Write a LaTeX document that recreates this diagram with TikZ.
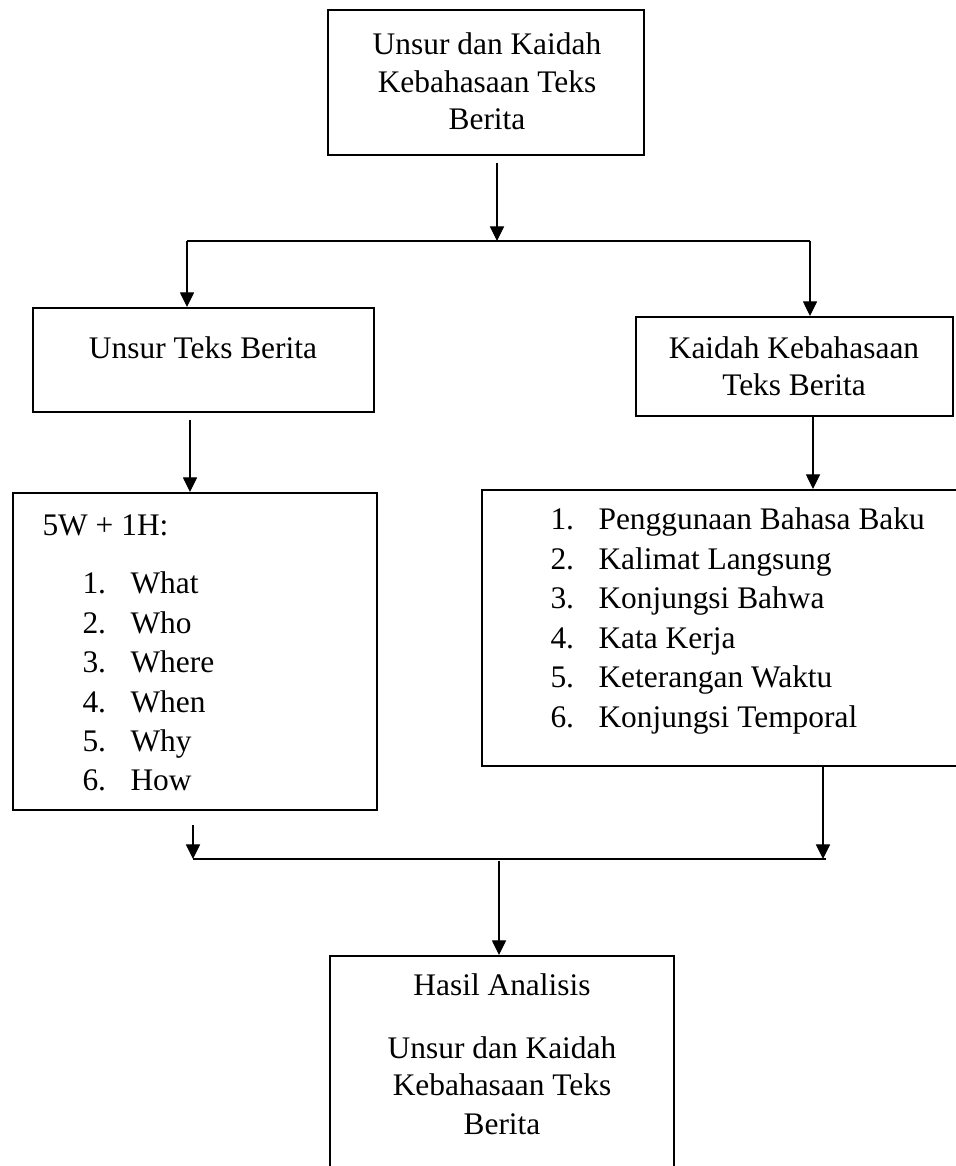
\documentclass[tikz,border=0pt]{standalone}
\usepackage{fontspec}
\setmainfont{Liberation Serif}
\usetikzlibrary{positioning, arrows.meta, fit, calc}
\tikzset{
  box/.style={draw, line width=0.8pt, inner sep=0pt},
  link/.style={line width=0.45pt},
  arr/.style={link, -{Triangle[length=5.6pt, width=5.4pt]}},
  txt/.style={inner sep=0pt, font=\fontsize{12}{14.4}\selectfont},
}
\newcommand{\listrow}[5]{%
  \node[txt, anchor=base west] (#1-n#4) at (#2,#3) {#4.};
  \node[txt, anchor=base west] (#1-t#4) at ({#2+48},#3) {#5};
}

\begin{document}
\begin{tikzpicture}[x=0.382pt, y=-0.382pt]
    \useasboundingbox (0,0) rectangle (955,1166);
    % kotak
    \node[box, fit={(328,10) (644,155)}] (judul) {};
    \node[box, fit={(33,308) (374,412)}] (unsur) {};
    \node[box, fit={(636,317) (953,416)}] (kaidah) {};
    \node[box, fit={(13,493) (377,810)}] (unsurlist) {};
    \node[box, fit={(482,490) (990,766)}] (kaidahlist) {};
    \node[box, fit={(330,956) (674,1200)}] (hasil) {};
    % teks
    \node[txt, anchor=base] (judul-1) at (487,55) {Unsur dan Kaidah};
    \node[txt, anchor=base] (judul-2) at (487,93) {Kebahasaan Teks};
    \node[txt, anchor=base] (judul-3) at (487,130) {Berita};
    \node[txt, anchor=base] (unsur-1) at (203,358) {Unsur Teks Berita};
    \node[txt, anchor=base] (kaidah-1) at (794,358) {Kaidah Kebahasaan};
    \node[txt, anchor=base] (kaidah-2) at (794,395) {Teks Berita};
    \node[txt, anchor=base west] (unsurlist-0) at (42,535) {5W + 1H:};
    \listrow{w}{82}{593}{1}{What}
    \listrow{w}{82}{633}{2}{Who}
    \listrow{w}{82}{672}{3}{Where}
    \listrow{w}{82}{712}{4}{When}
    \listrow{w}{82}{751}{5}{Why}
    \listrow{w}{82}{790}{6}{How}
    \listrow{k}{550}{529}{1}{Penggunaan Bahasa Baku}
    \listrow{k}{550}{569}{2}{Kalimat Langsung}
    \listrow{k}{550}{608}{3}{Konjungsi Bahwa}
    \listrow{k}{550}{648}{4}{Kata Kerja}
    \listrow{k}{550}{687}{5}{Keterangan Waktu}
    \listrow{k}{550}{727}{6}{Konjungsi Temporal}
    \node[txt, anchor=base] (hasil-1) at (502,995) {Hasil Analisis};
    \node[txt, anchor=base] (hasil-2) at (502,1058) {Unsur dan Kaidah};
    \node[txt, anchor=base] (hasil-3) at (502,1095) {Kebahasaan Teks};
    \node[txt, anchor=base] (hasil-4) at (502,1134) {Berita};
    % percabangan atas
    \coordinate (cab-m) at (497,241);
    \coordinate (cab-l) at (187,241);
    \coordinate (cab-r) at (810,241);
    \coordinate (judul-out) at (497,163);
    \draw[arr] (judul-out) -- (cab-m);
    \draw[link] (cab-l) -- (cab-r);
    \draw[arr] (cab-l) -- (unsur.north -| cab-l);
    \draw[arr] (cab-r) -- (kaidah.north -| cab-r);
    % ke daftar
    \coordinate (unsur-out) at (190,420);
    \draw[arr] (unsur-out) -- (unsurlist.north -| unsur-out);
    \coordinate (kaidah-out) at (813,416);
    \draw[arr] (kaidah-out) -- (kaidahlist.north -| kaidah-out);
    % gabungan bawah
    \coordinate (gab-l) at (193,859);
    \coordinate (gab-r) at (826,859);
    \coordinate (gab-m) at (499,861);
    \coordinate (unsurlist-out) at (193,825);
    \coordinate (kaidahlist-out) at (823,766);
    \draw[arr] (unsurlist-out) -- (gab-l);
    \draw[arr] (kaidahlist-out) -- (kaidahlist-out |- gab-l);
    \draw[link] (gab-l) -- (gab-r);
    \draw[arr] (gab-m) -- (hasil.north -| gab-m);
\end{tikzpicture}
\end{document}
